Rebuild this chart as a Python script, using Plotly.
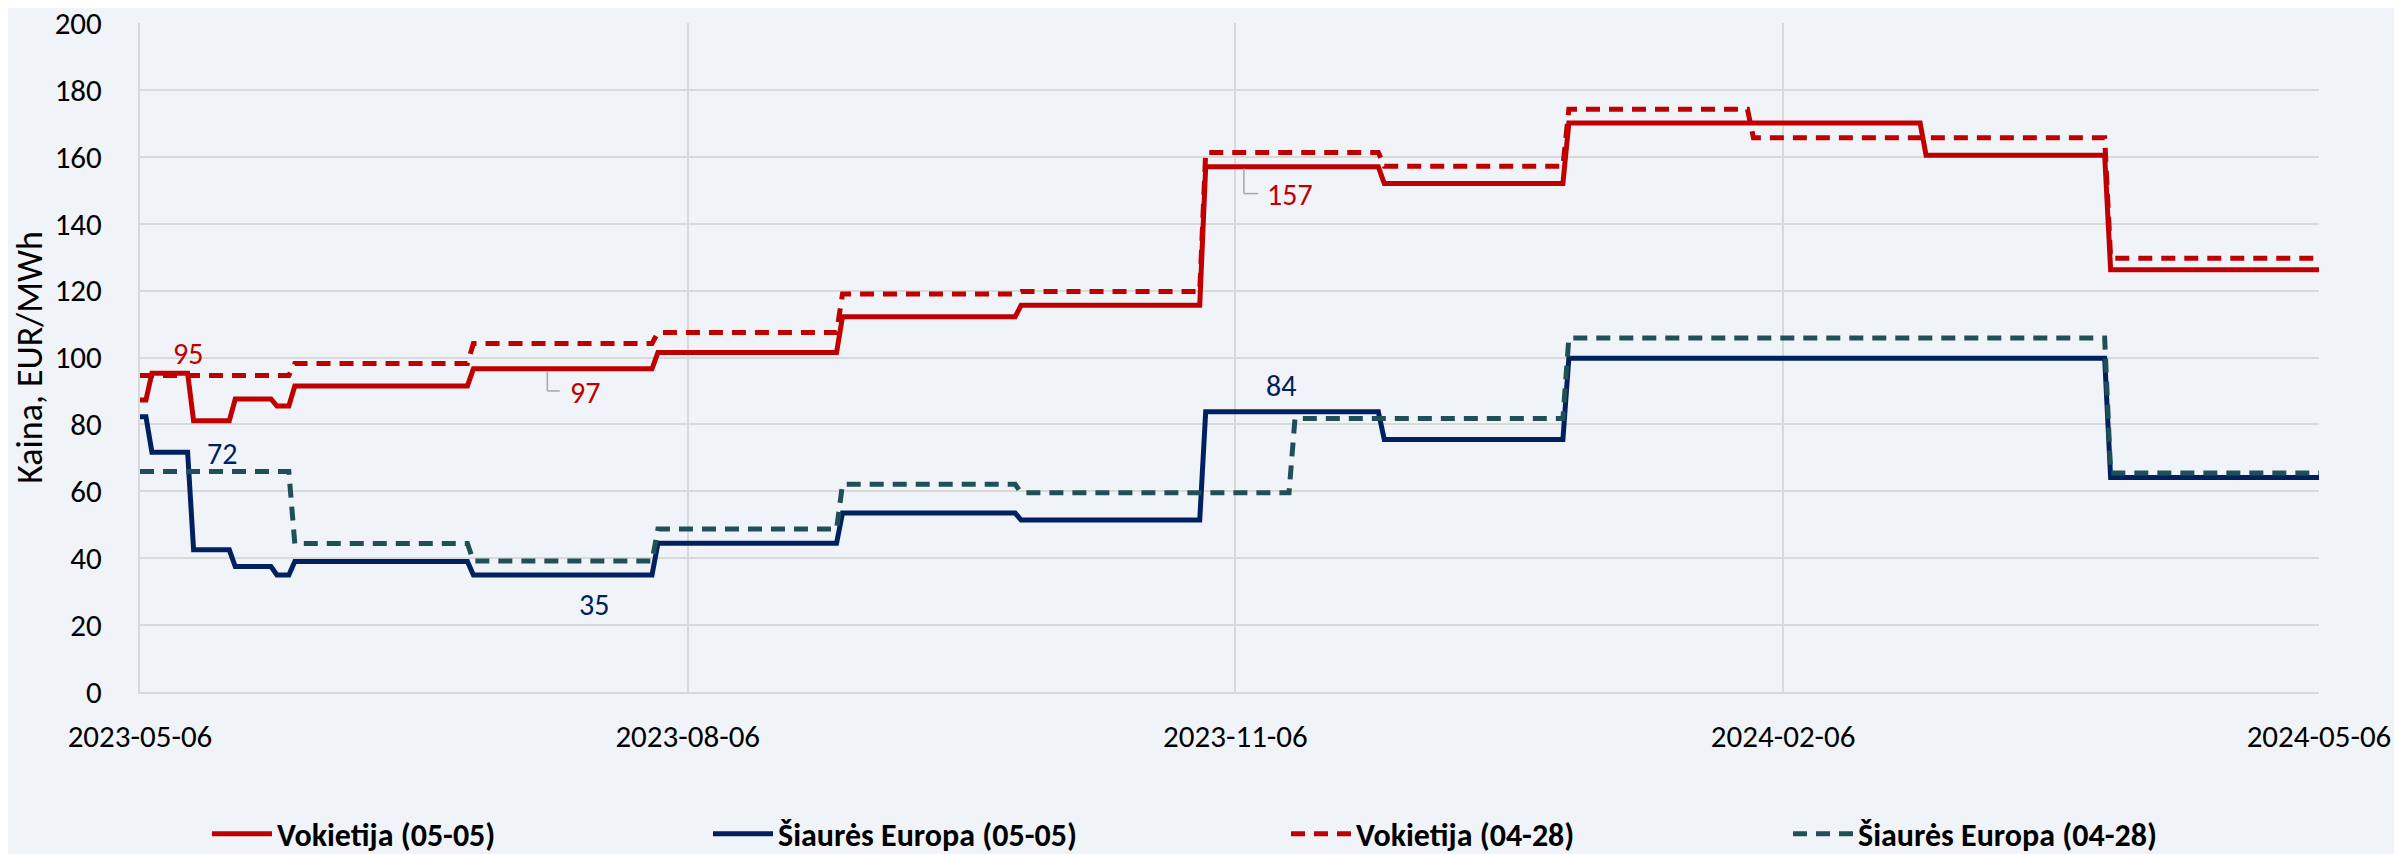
import pandas as pd
import plotly.graph_objects as go

# ---------------- data (step forward curves, EUR/MWh) ----------------
de_0505_dates = ['2023-05-06', '2023-05-08', '2023-05-15', '2023-05-22', '2023-05-29',
                 '2023-06-01', '2023-07-01', '2023-08-01', '2023-09-01', '2023-10-01',
                 '2023-11-01', '2023-12-01', '2024-01-01', '2024-03-01', '2024-04-01']
de_0505_values = [87.3, 95.3, 81.1, 87.6, 85.5, 91.5, 96.6, 101.5, 112.2, 115.6,
                  157.0, 152.0, 170.1, 160.5, 126.2]

ne_0505_dates = ['2023-05-06', '2023-05-08', '2023-05-15', '2023-05-22', '2023-05-29',
                 '2023-06-01', '2023-07-01', '2023-08-01', '2023-09-01', '2023-10-01',
                 '2023-11-01', '2023-12-01', '2024-01-01', '2024-04-01']
ne_0505_values = [82.3, 71.7, 42.5, 37.5, 35.0, 39.0, 35.0, 44.5, 53.5, 51.4,
                  83.8, 75.5, 99.8, 64.1]

de_0428_dates = ['2023-05-06', '2023-06-01', '2023-07-01', '2023-08-01', '2023-09-01',
                 '2023-10-01', '2023-11-01', '2023-12-01', '2024-01-01', '2024-02-01',
                 '2024-04-01']
de_0428_values = [94.6, 98.2, 104.2, 107.5, 119.0, 119.7, 161.3, 157.2, 174.2, 165.7, 129.7]

ne_0428_dates = ['2023-05-06', '2023-06-01', '2023-07-01', '2023-08-01', '2023-09-01',
                 '2023-10-01', '2023-11-16', '2024-01-01', '2024-04-01']
ne_0428_values = [65.9, 44.4, 39.2, 48.7, 62.1, 59.6, 81.8, 105.8, 65.5]

series_names = ['Vokietija (05-05)', 'Šiaurės Europa (05-05)',
                'Vokietija (04-28)', 'Šiaurės Europa (04-28)']
x_ticks = ['2023-05-06', '2023-08-06', '2023-11-06', '2024-02-06', '2024-05-06']
start_date, end_date = '2023-05-06', '2024-05-06'

# ---------------- helpers ----------------
days = pd.date_range(start_date, end_date, freq='D')


def daily(dates, values):
    s = pd.Series(values, index=pd.to_datetime(dates))
    return s.reindex(days, method='ffill')


FONT = 'Carlito, Calibri, Lato, sans-serif'
RED = '#C00000'
NAVY = '#002060'
TEAL = '#1F5058'
BG = '#F0F4F8'
GRID = '#D9D9D9'

fig = go.Figure()

specs = [
    (de_0505_dates, de_0505_values, RED, 'solid', 'legend'),
    (ne_0505_dates, ne_0505_values, NAVY, 'solid', 'legend2'),
    (de_0428_dates, de_0428_values, RED, '14px,9px', 'legend3'),
    (ne_0428_dates, ne_0428_values, TEAL, '14px,9px', 'legend4'),
]
for name, (d, v, col, dash, leg) in zip(series_names, specs):
    s = daily(d, v)
    fig.add_trace(go.Scatter(
        x=s.index, y=s.values, mode='lines', name=name,
        line=dict(color=col, width=5, dash=dash),
        legend=leg, hoverinfo='skip'))

# ---------------- data labels ----------------
labels = [
    ('2023-05-14', 101.3, round(de_0505_values[1]), RED),
    ('2023-05-19 19:00', 71.4, round(ne_0505_values[1]), NAVY),
    ('2023-07-19 17:00', 89.5, round(de_0505_values[6]), RED),
    ('2023-07-21 07:00', 26.3, round(ne_0505_values[6]), NAVY),
    ('2023-11-13 17:00', 91.5, round(ne_0505_values[10]), NAVY),
    ('2023-11-15 05:00', 148.6, round(de_0505_values[10]), RED),
]
for x, y, t, c in labels:
    fig.add_annotation(x=x, y=y, text=str(t), showarrow=False, xref='x', yref='y',
                       font=dict(family=FONT, size=30, color=c))

# leader lines
leader = dict(color='#A6A6A6', width=1.5)
for (xa, ya, xb, yb) in [
    ('2023-07-13 10:00', 96.0, '2023-07-13 10:00', 90.0),
    ('2023-07-13 10:00', 90.0, '2023-07-15 12:00', 90.0),
    ('2023-11-07 10:00', 156.5, '2023-11-07 10:00', 149.0),
    ('2023-11-07 10:00', 149.0, '2023-11-09 19:00', 149.0),
]:
    fig.add_shape(type='line', x0=xa, y0=ya, x1=xb, y1=yb, xref='x', yref='y',
                  line=leader, layer='above')

# ---------------- layout ----------------
# page body adds an 8px offset, so the figure is 8px smaller than the window
W, H = 2394, 846
ML, MR, MT, MB = 132, 83, 15, 162
plot_w = W - ML - MR
plot_h = H - MT - MB


def px_x(px):
    return (px - ML) / plot_w


legend_y = (H - MB - 826) / plot_h
legend_common = dict(orientation='h', yanchor='middle', y=legend_y, xanchor='left',
                     bgcolor='rgba(0,0,0,0)',
                     font=dict(family=FONT, size=32, color='#000000', weight='bold'),
                     itemwidth=60)
legend_x = [px_x(199), px_x(700), px_x(1278), px_x(1780)]

fig.update_layout(
    width=W, height=H,
    margin=dict(l=ML, r=MR, t=MT, b=MB, autoexpand=False),
    paper_bgcolor=BG, plot_bgcolor=BG,
    font=dict(family=FONT, size=31, color='#000000'),
    showlegend=True,
    legend=dict(legend_common, x=legend_x[0]),
    legend2=dict(legend_common, x=legend_x[1]),
    legend3=dict(legend_common, x=legend_x[2]),
    legend4=dict(legend_common, x=legend_x[3]),
    xaxis=dict(
        type='date', range=[start_date, end_date],
        tickvals=x_ticks, ticktext=x_ticks,
        showgrid=True, gridcolor=GRID, gridwidth=1.5,
        showline=True, linecolor=GRID, linewidth=2,
        ticks='outside', ticklen=16, tickcolor='rgba(0,0,0,0)',
        tickfont=dict(family=FONT, size=31, color='#000000'),
        ticklabeloverflow='allow',
        zeroline=False,
    ),
    yaxis=dict(
        range=[0, 200], tickvals=list(range(0, 201, 20)),
        showgrid=True, gridcolor=GRID, gridwidth=1.5,
        showline=True, linecolor=GRID, linewidth=2,
        ticks='outside', ticklen=30, tickcolor='rgba(0,0,0,0)',
        tickfont=dict(family=FONT, size=31, color='#000000'),
        ticklabeloverflow='allow',
        title=dict(text='Kaina, EUR/MWh', font=dict(family=FONT, size=36, color='#000000'),
                   standoff=10),
        zeroline=False,
    ),
)

fig.write_html('out.html')
